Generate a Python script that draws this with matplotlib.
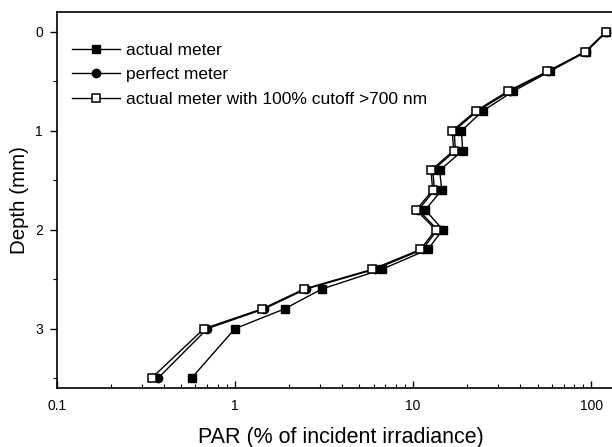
import matplotlib.pyplot as plt
import numpy as np
from matplotlib.ticker import FixedLocator, FixedFormatter, LogLocator, NullFormatter

plt.rcParams['font.family'] = ['Liberation Sans', 'DejaVu Sans']

# depth below surface (mm)
depth = [0, 0.2, 0.4, 0.6, 0.8, 1.0, 1.2, 1.4, 1.6, 1.8, 2.0, 2.2, 2.4, 2.6, 2.8, 3.0, 3.5]

# PAR (% of incident irradiance)
actual = [122, 94, 58.5, 36.6, 24.6, 18.7, 19.0, 14.1, 14.5, 11.7, 14.7, 12.1, 6.7, 3.07, 1.90, 1.0, 0.57]
perfect = [121, 93, 57.5, 35.0, 23.0, 17.0, 17.3, 12.9, 13.2, 10.7, 13.7, 11.3, 6.1, 2.5, 1.46, 0.70, 0.37]
cutoff = [121, 92.7, 56.8, 34.1, 22.5, 16.6, 16.9, 12.6, 12.9, 10.4, 13.4, 11.0, 5.9, 2.44, 1.42, 0.67, 0.34]

xticks = [0.1, 1, 10, 100]
xtick_labels = ['0.1', '1', '10', '100']

fig = plt.figure(figsize=(6.12, 4.47), dpi=100)
ax = fig.add_axes([0.093, 0.132, 0.907, 0.841])

ax.plot(actual, depth, '-', color='black', lw=1.0, marker='s', ms=6,
        mfc='black', mec='black', label='actual meter', zorder=2)
ax.plot(perfect, depth, '-', color='black', lw=1.0, marker='o', ms=6,
        mfc='black', mec='black', label='perfect meter', zorder=3)
ax.plot(cutoff, depth, '-', color='black', lw=1.0, marker='s', ms=6,
        mfc='white', mec='black', mew=1.1,
        label='actual meter with 100% cutoff >700 nm', zorder=4)

ax.set_xscale('log')
ax.set_xlim(0.1, 131)
ax.set_ylim(3.6, -0.2)

ax.xaxis.set_major_locator(FixedLocator(xticks))
ax.xaxis.set_major_formatter(FixedFormatter(xtick_labels))
ax.xaxis.set_minor_locator(LogLocator(base=10, subs=np.arange(2, 10)))
ax.xaxis.set_minor_formatter(NullFormatter())
ax.tick_params(axis='x', which='major', direction='in', length=5, width=1, labelsize=10, pad=8)
ax.tick_params(axis='x', which='minor', direction='in', length=3, width=0.8)

ax.set_yticks([0, 1, 2, 3])
ax.set_yticks([0.5, 1.5, 2.5, 3.5], minor=True)
ax.tick_params(axis='y', which='major', direction='out', length=5, width=1, labelsize=10, pad=5)
ax.tick_params(axis='y', which='minor', direction='out', length=3, width=0.8)

ax.spines['right'].set_visible(False)
for s in ['left', 'bottom', 'top']:
    ax.spines[s].set_linewidth(1.2)

ax.set_xlabel('PAR (% of incident irradiance)', fontsize=15.5, va='center')
ax.xaxis.set_label_coords(0.512, -0.133)
ax.set_ylabel('Depth (mm)', fontsize=14.8, va='center')
ax.yaxis.set_label_coords(-0.067, 0.5)

ax.legend(loc='upper left', frameon=False, fontsize=12.5, handlelength=2.76,
          handletextpad=0.35, labelspacing=0.54, borderaxespad=0, borderpad=0,
          bbox_to_anchor=(0.027, 0.919))

fig.savefig('out.png', dpi=100)
